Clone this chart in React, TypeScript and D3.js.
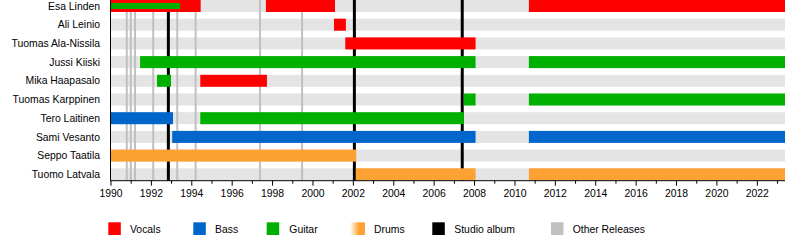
import React from "react";
import * as d3 from "d3";

const members = [
  "Esa Linden",
  "Ali Leinio",
  "Tuomas Ala-Nissila",
  "Jussi Kiiski",
  "Mika Haapasalo",
  "Tuomas Karppinen",
  "Tero Laitinen",
  "Sami Vesanto",
  "Seppo Taatila",
  "Tuomo Latvala",
];

// [member, start, end] in decimal years
const vocals: [string, number, number][] = [
  ["Esa Linden", 1990, 1994.44],
  ["Esa Linden", 1997.67, 2001.09],
  ["Esa Linden", 2010.69, 2023.37],
  ["Ali Leinio", 2001.04, 2001.63],
  ["Tuomas Ala-Nissila", 2001.6, 2008.05],
  ["Mika Haapasalo", 1994.42, 1997.72],
];
const bass: [string, number, number][] = [
  ["Tero Laitinen", 1990, 1993.07],
  ["Sami Vesanto", 1993.03, 2008.05],
  ["Sami Vesanto", 2010.69, 2023.37],
];
const guitar: [string, number, number][] = [
  ["Jussi Kiiski", 1991.44, 2008.05],
  ["Jussi Kiiski", 2010.69, 2023.37],
  ["Mika Haapasalo", 1992.28, 1992.97],
  ["Tuomas Karppinen", 2007.47, 2008.05],
  ["Tuomas Karppinen", 2010.69, 2023.37],
  ["Tero Laitinen", 1994.42, 2007.47],
];
const drums: [string, number, number][] = [
  ["Seppo Taatila", 1990, 2002.14],
  ["Tuomo Latvala", 2002.12, 2008.05],
  ["Tuomo Latvala", 2010.69, 2023.37],
];
// secondary (thin) role bars
const guitarSecondary: [string, number, number][] = [["Esa Linden", 1990, 1993.42]];

const studioAlbums = [1992.84, 2002.05, 2007.39];
const otherReleases = [1990.78, 1990.98, 1991.19, 1992.09, 1993.28, 1994.19, 1997.38, 1999.46];

const domainStart = 1990;
const domainEnd = 2023.37;

const legendItems = [
  { label: "Vocals", key: "vocals" },
  { label: "Bass", key: "bass" },
  { label: "Guitar", key: "guitar" },
  { label: "Drums", key: "drums" },
  { label: "Studio album", key: "studio" },
  { label: "Other Releases", key: "other" },
];

const COLORS: Record<string, string> = {
  vocals: "#ff0000",
  bass: "#0066cc",
  guitar: "#00b000",
  drums: "#fda232",
  studio: "#000000",
  other: "#c0c0c0",
};

export default function App() {
  const W = 800;
  const H = 240;
  const left = 111;
  const right = 785;
  const x = d3.scaleLinear().domain([domainStart, domainEnd]).range([left, right]);
  const y = d3.scaleBand<string>().domain(members).range([0, 187]).padding(0);
  const barH = 12;
  const axisY = 180.7;
  const font = "'Liberation Sans', Arial, sans-serif";
  const fs = 10.4;

  const years = d3.range(1990, 2024);

  const roleBars: [string, [string, number, number][]][] = [
    ["vocals", vocals],
    ["bass", bass],
    ["guitar", guitar],
    ["drums", drums],
  ];

  const legendX = [108.3, 193.3, 266.7, 350, 432.3, 551];
  const legendTextX = [130, 215, 289.3, 374, 454.3, 572.7];

  return (
    <svg
      width={W}
      height={H}
      style={{ position: "absolute", left: 0, top: 0, background: "#fff" }}
      fontFamily={font}
    >
      <defs>
        <linearGradient id="drumsGrad" x1="0" x2="1" y1="0" y2="0">
          <stop offset="0" stopColor="#fda232" stopOpacity={0} />
          <stop offset="0.6" stopColor="#fda232" stopOpacity={1} />
          <stop offset="1" stopColor="#fda232" stopOpacity={1} />
        </linearGradient>
      </defs>
      {members.map((m) => (
        <rect key={"bg" + m} x={left} y={y(m)!} width={right - left} height={barH} fill="#e4e4e4" />
      ))}
      {otherReleases.map((d, i) => (
        <line key={"o" + i} x1={x(d)} x2={x(d)} y1={0} y2={axisY} stroke="#c0c0c0" strokeWidth={2} />
      ))}
      {studioAlbums.map((d, i) => (
        <line key={"s" + i} x1={x(d)} x2={x(d)} y1={0} y2={axisY} stroke="#000" strokeWidth={3} />
      ))}
      {roleBars.map(([key, arr]) =>
        arr.map(([m, s, e], i) => (
          <rect key={key + i} x={x(s)} y={y(m)!} width={x(e) - x(s)} height={barH} fill={COLORS[key]} />
        ))
      )}
      {guitarSecondary.map(([m, s, e], i) => (
        <rect key={"gs" + i} x={x(s)} y={y(m)! + 3} width={x(e) - x(s)} height={6} fill={COLORS.guitar} />
      ))}
      <line x1={left - 0.5} x2={left - 0.5} y1={0} y2={axisY} stroke="#000" strokeWidth={1} />
      <line x1={left - 1} x2={right} y1={axisY} y2={axisY} stroke="#000" strokeWidth={1} />
      {years.map((yr) => (
        <line
          key={"t" + yr}
          x1={x(yr)}
          x2={x(yr)}
          y1={axisY}
          y2={axisY + (yr % 2 === 0 ? 5 : 3)}
          stroke="#000"
          strokeWidth={1}
        />
      ))}
      {years
        .filter((yr) => yr % 2 === 0)
        .map((yr) => (
          <text key={"l" + yr} x={x(yr)} y={197} fontSize={fs} textAnchor="middle" fill="#000">
            {yr}
          </text>
        ))}
      {members.map((m) => (
        <text
          key={"n" + m}
          x={100}
          y={y(m)! + barH / 2}
          dy="0.35em"
          fontSize={fs}
          textAnchor="end"
          fill="#000"
        >
          {m}
        </text>
      ))}
      {legendItems.map((it, i) => (
        <g key={"lg" + it.key}>
          <rect
            x={legendX[i]}
            y={222.3}
            width={it.key === "drums" ? 15 : 12.5}
            height={12.7}
            fill={it.key === "drums" ? "url(#drumsGrad)" : COLORS[it.key]}
          />
          <text x={legendTextX[i]} y={232.5} fontSize={fs} fill="#000">
            {it.label}
          </text>
        </g>
      ))}
    </svg>
  );
}
